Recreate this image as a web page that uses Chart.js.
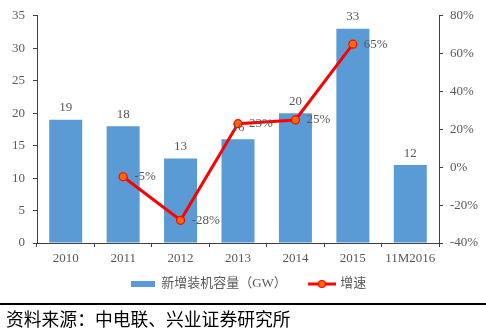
<!DOCTYPE html>
<html>
<head>
<meta charset="utf-8">
<script src="https://cdn.jsdelivr.net/npm/chart.js@4"></script>
<style>
  html, body { margin: 0; padding: 0; background: #fff; }
  #wrap { position: relative; width: 486px; height: 331px; overflow: hidden; }
  #c { position: absolute; left: 0; top: 0; }
  #rule { position: absolute; left: 0; top: 303px; width: 486px; height: 2px; background: #000; }
  #src { position: absolute; left: 6px; top: 306px; font-family: "Noto Sans CJK SC", sans-serif; font-size: 17.8px; line-height: 24px; color: #000; white-space: nowrap; }
</style>
</head>
<body>
<div id="wrap">
  <canvas id="c" width="486" height="331"></canvas>
  <div id="rule"></div>
  <div id="src">资料来源：中电联、兴业证券研究所</div>
</div>
<script>
const categories = ['2010', '2011', '2012', '2013', '2014', '2015', '11M2016'];
const capacityGW = [19, 18, 13, 16, 20, 33, 12];
const growthPct = [null, -5, -28, 23, 25, 65, null];
const barLabel = '新增装机容量（GW）';
const lineLabel = '增速';

const GRAY = '#595959';
const AXIS = '#404040';
const SERIF = '"Liberation Serif", "Noto Sans CJK SC", serif';

function makeBarIcon() {
  const c = document.createElement('canvas');
  c.width = 24; c.height = 8;
  const x = c.getContext('2d');
  x.fillStyle = '#5B9BD5';
  x.fillRect(0, 1, 24, 6);
  return c;
}
function makeLineIcon() {
  const c = document.createElement('canvas');
  c.width = 28; c.height = 10;
  const x = c.getContext('2d');
  x.strokeStyle = '#FF0000';
  x.lineWidth = 3;
  x.beginPath(); x.moveTo(0, 5); x.lineTo(28, 5); x.stroke();
  x.fillStyle = '#FF6A00';
  x.beginPath(); x.arc(14, 5, 3.5, 0, Math.PI * 2); x.fill();
  x.strokeStyle = '#FF0000'; x.lineWidth = 1.2; x.stroke();
  return c;
}
const barIcon = makeBarIcon();
const lineIcon = makeLineIcon();

const labelPlugin = {
  id: 'valueLabels',
  afterDatasetsDraw(chart) {
    const ctx = chart.ctx;
    ctx.save();
    ctx.font = '13px ' + SERIF;
    ctx.fillStyle = GRAY;
    const barMeta = chart.getDatasetMeta(0);
    ctx.textAlign = 'center';
    ctx.textBaseline = 'middle';
    barMeta.data.forEach((el, i) => {
      ctx.fillText(String(capacityGW[i]), el.x, el.y - 12);
    });
    const lineMeta = chart.getDatasetMeta(1);
    ctx.textAlign = 'left';
    lineMeta.data.forEach((el, i) => {
      if (growthPct[i] === null) return;
      ctx.fillText(growthPct[i] + '%', el.x + 11, el.y);
    });
    ctx.restore();
  }
};

new Chart(document.getElementById('c'), {
  data: {
    labels: categories,
    datasets: [
      {
        type: 'bar',
        label: barLabel,
        data: capacityGW,
        backgroundColor: '#5B9BD5',
        borderWidth: 0,
        yAxisID: 'y',
        order: 1,
        categoryPercentage: 1,
        barPercentage: 0.575
      },
      {
        type: 'line',
        label: lineLabel,
        data: growthPct,
        borderColor: '#FF0000',
        borderWidth: 3,
        pointRadius: 4,
        pointBackgroundColor: '#FF6A00',
        pointBorderColor: '#FF0000',
        pointBorderWidth: 1.2,
        spanGaps: false,
        tension: 0,
        yAxisID: 'y1',
        order: 0
      }
    ]
  },
  options: {
    responsive: false,
    animation: false,
    devicePixelRatio: 1,
    layout: { padding: { top: 13, left: 11, right: 0, bottom: 30.5 } },
    plugins: {
      tooltip: { enabled: false },
      legend: {
        position: 'bottom',
        labels: {
          usePointStyle: true,
          pointStyleWidth: 24,
          padding: 10,
          color: GRAY,
          font: { size: 13, family: SERIF },
          generateLabels(chart) {
            return [
              { text: barLabel + '\u2003', pointStyle: barIcon, fillStyle: '#5B9BD5', strokeStyle: '#5B9BD5', lineWidth: 0, datasetIndex: 0, fontColor: GRAY },
              { text: lineLabel, pointStyle: lineIcon, fillStyle: '#FF0000', strokeStyle: '#FF0000', lineWidth: 0, datasetIndex: 1, fontColor: GRAY }
            ];
          }
        }
      }
    },
    scales: {
      x: {
        grid: { display: true, drawOnChartArea: false, drawTicks: true, tickLength: 4, color: AXIS, offset: true },
        border: { display: true, color: AXIS, width: 1 },
        ticks: { color: GRAY, font: { size: 13, family: SERIF }, padding: 4, maxRotation: 0, autoSkip: false },
        afterFit(s) { s.height = 24.5; }
      },
      y: {
        position: 'left',
        min: 0, max: 35,
        grid: { display: true, drawOnChartArea: false, drawTicks: true, tickLength: 4, color: AXIS },
        border: { display: true, color: AXIS, width: 1 },
        ticks: { stepSize: 5, color: GRAY, font: { size: 13, family: SERIF }, padding: 8 },
        afterFit(s) { s.width = 26; }
      },
      y1: {
        position: 'right',
        min: -40, max: 80,
        grid: { display: true, drawOnChartArea: false, drawTicks: true, tickLength: 4, color: AXIS },
        border: { display: true, color: AXIS, width: 1 },
        ticks: { stepSize: 20, color: GRAY, font: { size: 13, family: SERIF }, padding: 7, callback: v => v + '%' },
        afterFit(s) { s.width = 47; }
      }
    }
  },
  plugins: [labelPlugin]
});
</script>
</body>
</html>
